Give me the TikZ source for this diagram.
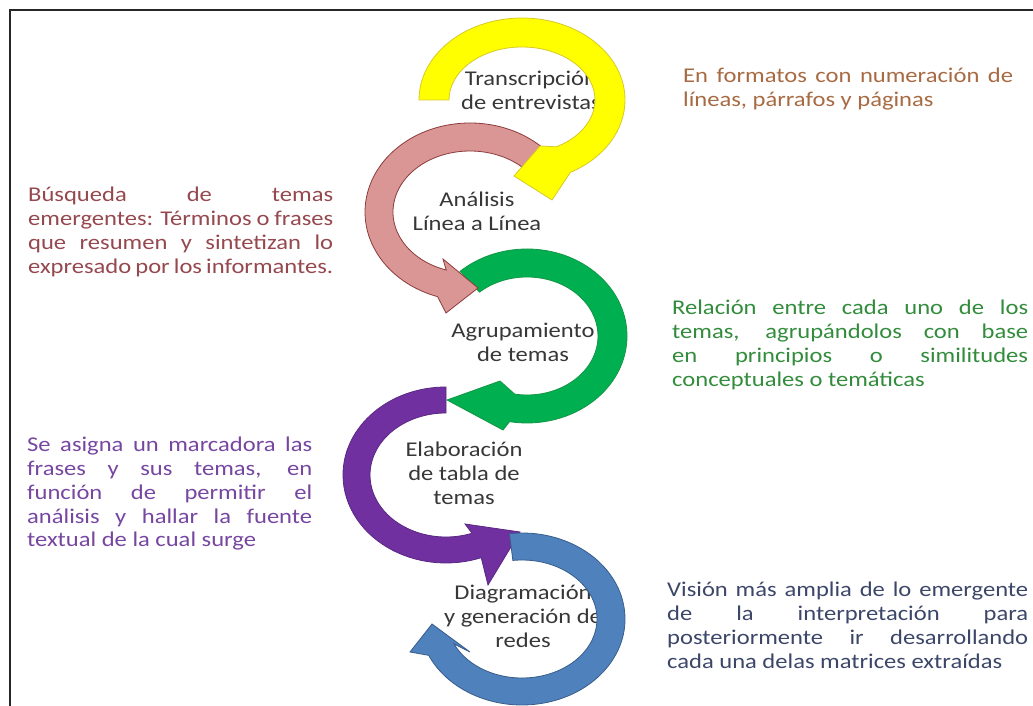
\documentclass[tikz,border=0pt]{standalone}
\usepackage{fontspec}
\setmainfont{Carlito}[FakeStretch=1.17]
\usetikzlibrary{calc}
\setlength{\parindent}{0pt}
\emergencystretch=2em

\definecolor{ylwfill}{RGB}{255,255,0}
\definecolor{ylwline}{RGB}{215,200,40}
\definecolor{pinkfill}{RGB}{217,150,148}
\definecolor{pinkline}{RGB}{140,60,60}
\definecolor{grnfill}{RGB}{0,176,80}
\definecolor{grnline}{RGB}{20,150,70}
\definecolor{purfill}{RGB}{112,48,160}
\definecolor{purline}{RGB}{90,40,130}
\definecolor{blufill}{RGB}{79,129,189}
\definecolor{bluline}{RGB}{56,93,138}

\definecolor{brownTxt}{RGB}{168,106,66}
\definecolor{roseTxt}{RGB}{149,72,78}
\definecolor{greenTxt}{RGB}{50,140,60}
\definecolor{purpleTxt}{RGB}{118,70,160}
\definecolor{blueTxt}{RGB}{60,70,105}
\definecolor{labelTxt}{RGB}{55,55,55}

\begin{document}
\begin{tikzpicture}[x=1pt, y=1pt,
  arclabel/.style={align=center, anchor=north, inner sep=0pt, text=labelTxt, font=\fontsize{21}{23.8}\selectfont},
  sidenote/.style={align=justify, anchor=north west, inner sep=0pt, font=\fontsize{21}{23.8}\selectfont}]

\useasboundingbox (0,0) rectangle (1033,706);
\clip (0,0) rectangle (1033,706);

\draw [line width=2pt, black!85] (10,0) -- (10,696) -- (1033,696);

% texts inside the arrows
\node [arclabel] (transc) at (531,635) {Transcripción\\de entrevistas};
\node [arclabel] (analisis) at (477,514) {Análisis\\Línea a Línea};
\node [arclabel] (agrup) at (523,383) {Agrupamiento\\de temas};
\node [arclabel] (elabor) at (464,264) {Elaboración\\de tabla de\\temas};
\node [arclabel] (diagram) at (523,121) {Diagramación\\y generación de\\redes};

% notes on both sides
\node [sidenote, text width=330pt, text=brownTxt] (formatos) at (683,638) {En formatos con numeración de\linebreak líneas, párrafos y páginas};
\node [sidenote, text width=305pt, text=roseTxt] (busqueda) at (28,519) {Búsqueda de temas\linebreak emergentes: Términos o frases\linebreak que resumen y sintetizan lo\linebreak expresado por los informantes.};
\node [sidenote, text width=356pt, text=greenTxt] (relacion) at (672,406) {Relación entre cada uno de los\linebreak temas, agrupándolos con base\linebreak en principios o similitudes\linebreak conceptuales o temáticas};
\node [sidenote, text width=285pt, text=purpleTxt] (asigna) at (27,269) {Se asigna un marcadora las\linebreak frases y sus temas, en\linebreak función de permitir el\linebreak análisis y hallar la fuente\linebreak textual de la cual surge};
\node [sidenote, text width=361pt, text=blueTxt] (vision) at (667,124) {Visión más amplia de lo emergente\linebreak de la interpretación para\linebreak posteriormente ir desarrollando\linebreak cada una delas matrices extraídas};

% circular arrows
\coordinate (ucen) at (446,231);
\coordinate (bcen) at (522,87);
\coordinate (gcen) at (527,370);
\coordinate (pcen) at (470,494);
\coordinate (ycen) at (522,606);

\draw [fill=purfill, draw=purline, line width=.8pt] ($(ucen)+(90:103 and 88)$) arc [start angle=90, end angle=290, x radius=103, y radius=88] -- (488,121) -- (520,174) -- (465,182) -- ($(ucen)+(290:76 and 62)$) arc [start angle=290, end angle=90, x radius=76, y radius=62] -- cycle;
\draw [fill=blufill, draw=bluline, line width=.8pt] ($(bcen)+(97:103 and 86)$) arc [start angle=97, end angle=-155, x radius=103, y radius=86] -- (410,54) -- (432,82) -- (470,54) -- ($(bcen)+(-155:75 and 59)$) arc [start angle=-155, end angle=97, x radius=75, y radius=59] -- cycle;
\draw [fill=grnfill, draw=grnline, line width=.8pt] ($(gcen)+(132:100 and 87)$) arc [start angle=132, end angle=-100, x radius=100, y radius=87] -- (503,276) -- (447,306) -- (500,325) -- ($(gcen)+(-100:71 and 59)$) arc [start angle=-100, end angle=132, x radius=71, y radius=59] -- cycle;
\draw [fill=pinkfill, draw=pinkline, line width=.8pt] ($(pcen)+(47:105 and 89)$) arc [start angle=47, end angle=252, x radius=105, y radius=89] -- (446,393) -- (478,418) -- (443,447) -- ($(pcen)+(252:77 and 61)$) arc [start angle=252, end angle=47, x radius=77, y radius=61] -- cycle;
\draw [fill=ylwfill, draw=ylwline, line width=.8pt] ($(ycen)+(180:103 and 82)$) arc [start angle=180, end angle=-62, x radius=103, y radius=82] -- (552,506) -- (514,530) -- (540,560) -- ($(ycen)+(-62:73 and 53)$) arc [start angle=-62, end angle=180, x radius=73, y radius=53] -- cycle;

\end{tikzpicture}
\end{document}
